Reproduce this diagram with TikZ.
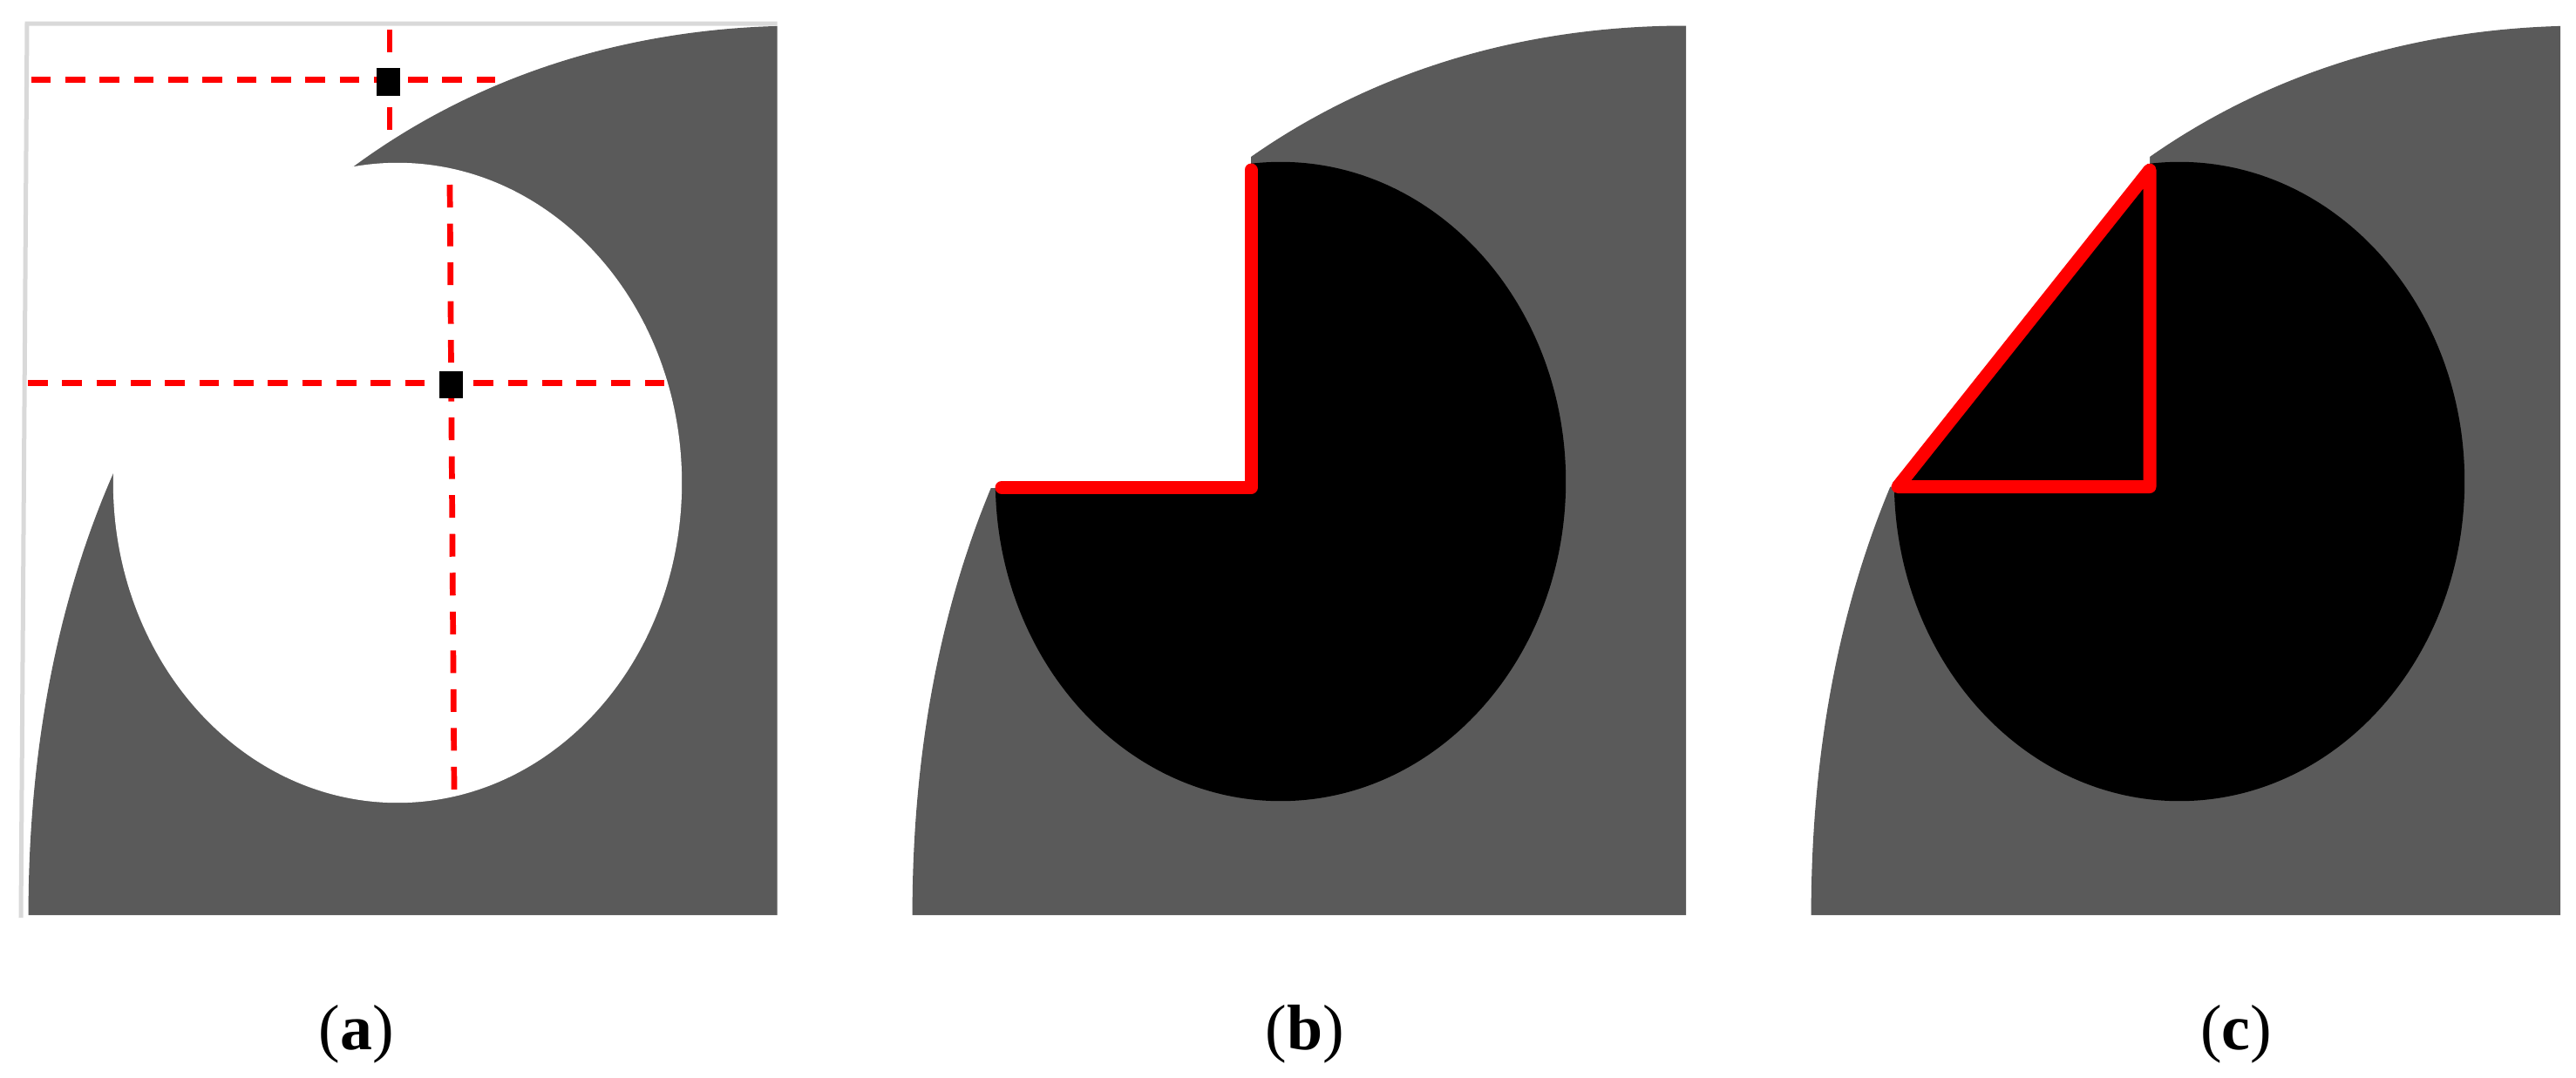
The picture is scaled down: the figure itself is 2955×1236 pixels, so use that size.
\documentclass[tikz,border=0pt]{standalone}
\usepackage{fontspec}
\setmainfont{Liberation Serif}
\definecolor{shade}{RGB}{90,90,90}
\definecolor{framegrey}{RGB}{217,217,217}
\tikzset{
  hdash/.style={red, line width=0.07cm, dash pattern=on 0.227cm off 0.166cm},
  vdash/.style={red, line width=0.067cm, dash pattern=on 0.26cm off 0.185cm},
  marker/.style={rectangle, fill=black, draw=none, inner sep=0pt, minimum width=0.27cm, minimum height=0.31cm},
  redline/.style={red, line width=0.15cm, line cap=round, line join=round},
  lab/.style={font=\fontsize{21}{25}\selectfont, inner sep=0pt, anchor=center},
  bigshape/.style={fill=shade},
}
\begin{document}
\begin{tikzpicture}[x=0.01cm,y=-0.01cm]
\useasboundingbox (0,0) rectangle (2955,1236);
\fill[white] (0,0) rectangle (2955,1236);

% ---------- panel (a)
\begin{scope}
  \clip (0,0) rectangle (891.5,1051);
  \fill[bigshape] (32.6,1050) .. controls (32.6,407.1) and (414.2,29.5) .. (920,29.5) -- (920,1050) -- cycle;
  \fill[white] (456,554) ellipse [x radius=3.26cm, y radius=3.67cm];
\end{scope}
\draw[framegrey, line width=0.05cm] (24,1053) -- (31,27) -- (891.5,27);
\draw[hdash] (35.6,91.7) -- (568,91.7);
\draw[vdash] (447,34) -- (447,149);
\draw[hdash] (32,439) -- (762,439);
\draw[vdash] (516,212) -- (521,906);
\node[marker] (m1) at (445.3,94) {};
\node[marker] (m2) at (517,441) {};

% ---------- panel (b)
\begin{scope}
  \clip (1000,0) rectangle (1934,1050);
  \fill[bigshape] (1046.6,1050) .. controls (1046.6,407.1) and (1428.2,29.5) .. (1934,29.5) -- (1934,1050) -- cycle;
  \fill[black] (1469,552.5) ellipse [x radius=3.27cm, y radius=3.665cm];
  \fill[white] (1000,0) rectangle (1435,559.5);
\end{scope}
\coordinate (bl) at (1149,559.5);
\coordinate (bc) at (1435,559.5);
\coordinate (bt) at (1435,195);
\draw[redline] (bl) -- (bc) -- (bt);

% ---------- panel (c)
\begin{scope}
  \clip (2000,0) rectangle (2937,1050);
  \fill[bigshape] (2077.6,1050) .. controls (2077.6,407.1) and (2459.2,29.5) .. (2965,29.5) -- (2965,1050) -- cycle;
  \fill[black] (2500,552.5) ellipse [x radius=3.27cm, y radius=3.665cm];
  \fill[white] (2466,194) -- (2176,558.5) -- (2000,558.5) -- (2000,0) -- (2466,0) -- cycle;
\end{scope}
\coordinate (cl) at (2177,558.5);
\coordinate (cc) at (2466,558.5);
\coordinate (ct) at (2466,195);
\draw[redline] (cl) -- (cc) -- (ct) -- cycle;

% ---------- labels
\node[lab] (la) at (409,1187) {(\textbf{a})};
\node[lab] (lb) at (1497,1187) {(\textbf{b})};
\node[lab] (lc) at (2565,1187) {(\textbf{c})};
\end{tikzpicture}
\end{document}
